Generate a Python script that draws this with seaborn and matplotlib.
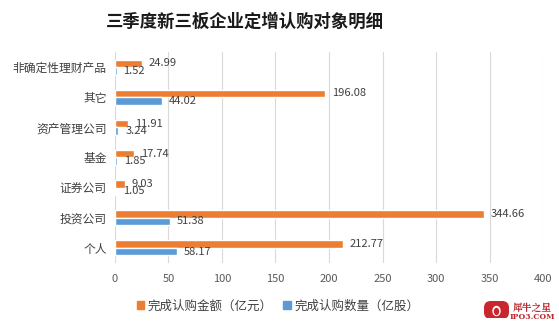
import matplotlib
matplotlib.use("Agg")
import matplotlib.pyplot as plt
import seaborn as sns
import pandas as pd
from matplotlib.patches import FancyBboxPatch, Ellipse

categories = ["非确定性理财产品", "其它", "资产管理公司", "基金", "证券公司", "投资公司", "个人"]
amount = [24.99, 196.08, 11.91, 17.74, 9.03, 344.66, 212.77]   # 完成认购金额（亿元）
shares = [1.52, 44.02, 3.24, 1.85, 1.05, 51.38, 58.17]         # 完成认购数量（亿股）
series = ["完成认购金额（亿元）", "完成认购数量（亿股）"]
colors = ["#ED7D31", "#5B9BD5"]
xticks = [0, 50, 100, 150, 200, 250, 300, 350, 400]

df = pd.DataFrame({
    "cat": categories * 2,
    "val": amount + shares,
    "series": [series[0]] * len(categories) + [series[1]] * len(categories),
})

sns.set_theme(style="white")
plt.rcParams["font.family"] = ["Noto Sans CJK SC", "DejaVu Sans"]

fig = plt.figure(figsize=(5.59, 3.27), dpi=100)
ax = fig.add_axes([0.2057, 0.196, 0.7657, 0.645])

sns.barplot(data=df, y="cat", x="val", hue="series", order=categories,
            hue_order=series, palette=colors, orient="h", width=0.5,
            saturation=1, ax=ax, legend=False, errorbar=None)

ax.set_xlim(0, 400)
ax.set_xticks(xticks)
ax.set_xticklabels([str(t) for t in xticks])
ax.set_xlabel("")
ax.set_ylabel("")
for s in ax.spines.values():
    s.set_visible(False)
ax.grid(axis="x", color="#d9d9d9", linewidth=0.8)
ax.set_axisbelow(True)
ax.tick_params(axis="x", colors="#595959", labelsize=8, length=0, pad=8)
ax.tick_params(axis="y", colors="#404040", labelsize=8.5, length=0, pad=6)

for cont in ax.containers:
    ax.bar_label(cont, fmt="%.2f", padding=5, fontsize=8, color="#404040")

handles = [plt.Rectangle((0, 0), 1, 1, color=c) for c in colors]
fig.legend(handles, series, loc="center", bbox_to_anchor=(0.497, 0.064), ncol=2,
           frameon=False, fontsize=9, handlelength=0.6, handleheight=0.6,
           handletextpad=0.25, columnspacing=0.9, labelcolor="#404040")

fig.text(0.438, 0.933, "三季度新三板企业定增认购对象明细", ha="center", va="center",
         fontsize=12.5, fontweight="bold", color="#1a1a1a")

# brand mark in the lower right corner
logo = fig.add_axes([484 / 559, 1 - 318 / 327, 25 / 559, 18 / 327])
logo.set_xlim(0, 25)
logo.set_ylim(0, 18)
logo.axis("off")
logo.add_patch(FancyBboxPatch((1.5, 0.5), 22, 15, boxstyle="round,pad=0.8,rounding_size=6",
                              color="#C8282D"))
logo.add_patch(Ellipse((12.5, 7), 7, 9, color="white"))
logo.add_patch(Ellipse((12.5, 6.5), 4, 6, color="#C8282D"))
fig.text(0.952, 0.058, "犀牛之星", ha="center", va="center", fontsize=7,
         color="#B8282D", fontweight="bold", family=["Noto Serif CJK SC", "Noto Sans CJK SC"])
fig.text(0.952, 0.032, "IPO3.COM", ha="center", va="center", fontsize=5.5,
         color="#B8282D", fontweight="bold", family="DejaVu Serif")

fig.savefig("out.png", dpi=100)
